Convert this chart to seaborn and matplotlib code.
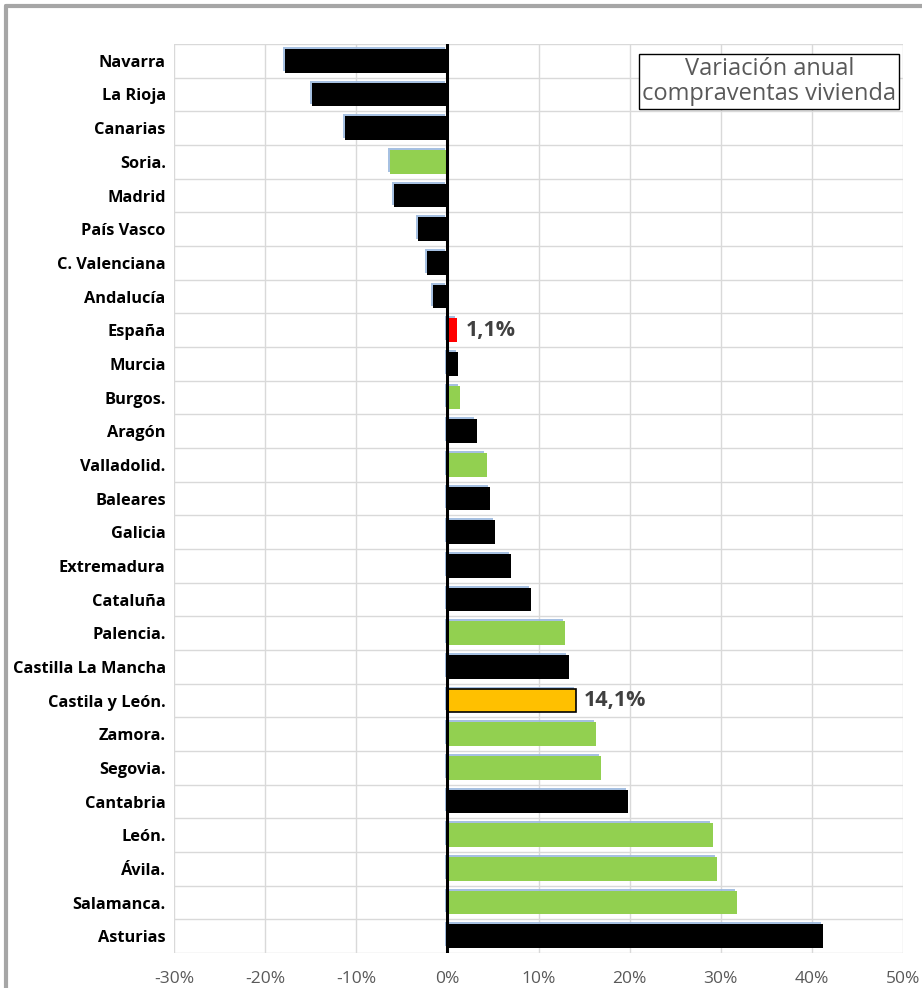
import matplotlib
matplotlib.use("Agg")
import matplotlib.pyplot as plt
import matplotlib.lines as mlines
import matplotlib.patheffects as pe
import seaborn as sns
import pandas as pd
from matplotlib.ticker import FixedLocator, FuncFormatter

regions = ["Navarra", "La Rioja", "Canarias", "Soria.", "Madrid", "País Vasco",
           "C. Valenciana", "Andalucía", "España", "Murcia", "Burgos.", "Aragón",
           "Valladolid.", "Baleares", "Galicia", "Extremadura", "Cataluña",
           "Palencia.", "Castilla La Mancha", "Castila y León.", "Zamora.",
           "Segovia.", "Cantabria", "León.", "Ávila.", "Salamanca.", "Asturias"]
values = [-17.8, -14.9, -11.2, -6.3, -5.9, -3.2, -2.2, -1.6, 1.1, 1.2, 1.4, 3.2,
          4.3, 4.7, 5.2, 7.0, 9.2, 12.9, 13.3, 14.1, 16.3, 16.9, 19.8, 29.1,
          29.6, 31.8, 41.2]
groups = ["ccaa", "ccaa", "ccaa", "prov", "ccaa", "ccaa", "ccaa", "ccaa", "esp",
          "ccaa", "prov", "ccaa", "prov", "ccaa", "ccaa", "ccaa", "ccaa", "prov",
          "ccaa", "cyl", "prov", "prov", "ccaa", "prov", "prov", "prov", "ccaa"]
group_colors = {"ccaa": "#000000", "prov": "#92D050", "esp": "#FF0000", "cyl": "#FFC000"}
x_ticks = [-30, -20, -10, 0, 10, 20, 30, 40, 50]
annotations = {"España": "1,1%", "Castila y León.": "14,1%"}
title_text = "Variación anual\ncompraventas vivienda"

df = pd.DataFrame({"region": regions, "value": values, "group": groups})

sns.set_theme(style="white")
plt.rcParams["font.family"] = ["Open Sans", "DejaVu Sans"]

fig = plt.figure(figsize=(9.22, 9.88), dpi=100)
fig.patch.set_facecolor("white")
ax = fig.add_axes([174 / 922, 1 - 953 / 988, (903 - 174) / 922, (953 - 44) / 988])
ax.set_facecolor("white")

sns.barplot(data=df, x="value", y="region", hue="group", palette=group_colors,
            dodge=False, legend=False, width=0.7, ax=ax, orient="h",
            order=regions, hue_order=["ccaa", "prov", "esp", "cyl"], zorder=3,
            saturation=1)

shadow = [pe.SimplePatchShadow(offset=(-1.5, 1.5), shadow_rgbFace="#9DB9DE", alpha=0.9),
          pe.Normal()]
idx = regions.index("Castila y León.")
for patch in ax.patches:
    if patch.get_width() == 0:
        continue
    patch.set_path_effects(shadow)
    patch.set_linewidth(0)
    y = patch.get_y() + patch.get_height() / 2
    if abs(y - idx) < 0.01:
        patch.set_edgecolor("#000000")
        patch.set_linewidth(1.2)

ax.set_xlim(-30, 50)
ax.set_ylim(len(regions) - 0.5, -0.5)
ax.xaxis.set_major_locator(FixedLocator(x_ticks))
ax.xaxis.set_major_formatter(FuncFormatter(lambda v, p: f"{int(v)}%"))
ax.yaxis.set_minor_locator(FixedLocator([i + 0.5 for i in range(-1, len(regions))]))
ax.grid(True, which="major", axis="x", color="#D9D9D9", linewidth=1, zorder=0)
ax.grid(True, which="minor", axis="y", color="#D9D9D9", linewidth=1, zorder=0)
ax.set_axisbelow(True)
for s in ax.spines.values():
    s.set_visible(False)
ax.axvline(0, color="#000000", linewidth=2.2, zorder=4)

ax.set_xlabel("")
ax.set_ylabel("")
ax.tick_params(axis="x", which="both", length=0, pad=13, labelsize=12.5, labelcolor="#595959")
ax.tick_params(axis="y", which="both", length=0, pad=6, labelsize=11.8)
for lab in ax.get_yticklabels():
    lab.set_fontweight("bold")
    lab.set_color("#000000")

for name, txt in annotations.items():
    i = regions.index(name)
    v = values[i]
    ax.text(v + 0.9, i, txt, va="center", ha="left", fontsize=15.5, fontweight="bold",
            color="#404040", zorder=5)

ax.text(0.8165, 0.9585, title_text, transform=ax.transAxes, ha="center", va="center",
        fontsize=17, color="#595959", linespacing=1.05, zorder=6,
        bbox=dict(boxstyle="square,pad=0.12", facecolor="white", edgecolor="#000000",
                  linewidth=1.0))

# outer chart border (top and left edges visible)
fig.add_artist(mlines.Line2D([6 / 922, 6 / 922], [0, 1 - 6 / 988], transform=fig.transFigure,
                             color="#A6A6A6", linewidth=3))
fig.add_artist(mlines.Line2D([6 / 922, 1], [1 - 6 / 988, 1 - 6 / 988], transform=fig.transFigure,
                             color="#A6A6A6", linewidth=3))

fig.savefig("out.png", dpi=100, facecolor="white")
